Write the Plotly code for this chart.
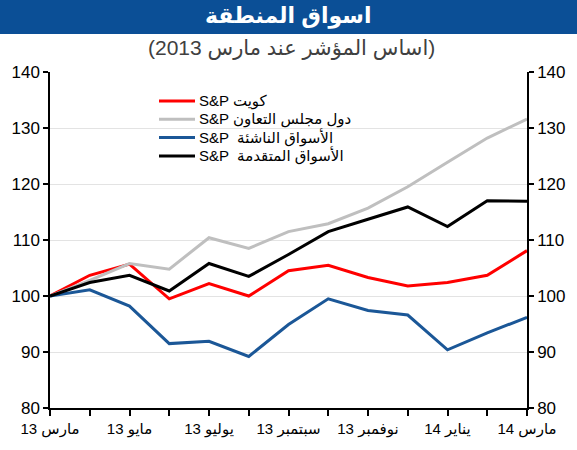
import plotly.graph_objects as go

# monthly index, March 2013 = 100
months = list(range(13))
tick_pos = [0, 2, 4, 6, 8, 10, 12]
tick_labels = ["مارس 13", "مايو 13", "يوليو 13", "سبتمبر 13", "نوفمبر 13", "يناير 14", "مارس 14"]

kuwait = [100, 103.7, 105.7, 99.5, 102.2, 100.0, 104.5, 105.5, 103.3, 101.8, 102.4, 103.7, 108.1]
gcc = [100, 102.8, 105.8, 104.8, 110.4, 108.5, 111.5, 112.9, 115.7, 119.5, 123.9, 128.2, 131.6]
emerging = [100, 101.1, 98.2, 91.5, 91.9, 89.2, 94.9, 99.5, 97.4, 96.6, 90.4, 93.4, 96.2]
developed = [100, 102.4, 103.7, 100.9, 105.8, 103.5, 107.4, 111.5, 113.7, 115.9, 112.4, 117.0, 116.9]

names = ["S&P كويت", "S&P دول مجلس التعاون", "S&P  الأسواق الناشئة", "S&P  الأسواق المتقدمة"]
colors = ["#ff0000", "#bfbfbf", "#1b5797", "#000000"]

W, H = 577, 450
ml, mr, mt, mb = 50, 50, 72, 42
pw, ph = W - ml - mr, H - mt - mb


def px(x):
    return (x - ml) / pw


def py(y):
    return 1 - (y - mt) / ph


fig = go.Figure()
series = [kuwait, gcc, emerging, developed]
for i, (vals, nm, col) in enumerate(zip(series, names, colors)):
    fig.add_trace(go.Scatter(
        x=months, y=vals, name=nm, mode="lines",
        line=dict(color=col, width=3),
        yaxis="y2" if i == 3 else "y",
        showlegend=False,
    ))

# legend drawn by hand so the rows sit as tight as in the original
for i, (nm, col) in enumerate(zip(names, colors)):
    ry = 101 + i * 18.3
    fig.add_shape(type="line", xref="paper", yref="paper",
                  x0=px(159), x1=px(195), y0=py(ry), y1=py(ry),
                  line=dict(color=col, width=3))
    fig.add_annotation(text=nm, xref="paper", yref="paper", x=px(197), y=py(ry),
                       xanchor="left", yanchor="middle", showarrow=False,
                       font=dict(size=15, color="black"))

font = "Arial, Liberation Sans, DejaVu Sans, sans-serif"
yaxis_common = dict(
    range=[80, 140], tickvals=[80, 90, 100, 110, 120, 130, 140],
    showline=True, linecolor="black", linewidth=1.5,
    ticks="outside", ticklen=5, tickwidth=1.5, tickcolor="black",
    tickfont=dict(size=17, color="black"),
    zeroline=False, fixedrange=True, automargin=False,
)

fig.update_layout(
    width=W, height=H,
    margin=dict(l=ml, r=mr, t=mt, b=mb, autoexpand=False),
    paper_bgcolor="white", plot_bgcolor="white",
    font=dict(family=font, color="black"),
    xaxis=dict(
        range=[0, 12], tickmode="array", tickvals=tick_pos, ticktext=tick_labels,
        showline=True, linecolor="black", linewidth=1.5,
        ticks="outside", ticklen=6, tickwidth=1.5, tickcolor="black",
        minor=dict(tickmode="array", tickvals=months, ticks="outside", ticklen=6,
                   tickwidth=1.5, tickcolor="black", showgrid=False),
        showgrid=False, zeroline=False, automargin=False, fixedrange=True,
        tickfont=dict(size=15, color="black"),
    ),
    yaxis=dict(showgrid=True, gridcolor="#e3e3e3", gridwidth=1, side="left", **yaxis_common),
    yaxis2=dict(overlaying="y", side="right", showgrid=False, **yaxis_common),
)

# title bar
fig.add_shape(type="rect", xref="paper", yref="paper",
              x0=px(0), x1=px(W), y0=py(34), y1=py(0),
              fillcolor="#0b4f96", line=dict(width=0), layer="below")
fig.add_annotation(text="<b>اسواق المنطقة</b>", xref="paper", yref="paper",
                   x=px(288), y=py(16), showarrow=False,
                   font=dict(size=22, color="white"), xanchor="center", yanchor="middle")
fig.add_annotation(text="(اساس المؤشر عند مارس 2013)", xref="paper", yref="paper",
                   x=px(291), y=py(48), showarrow=False,
                   font=dict(size=21, color="#404040"), xanchor="center", yanchor="middle")

fig.write_html("out.html", config={"displayModeBar": False},
               post_script="document.body.style.margin='0px';")
